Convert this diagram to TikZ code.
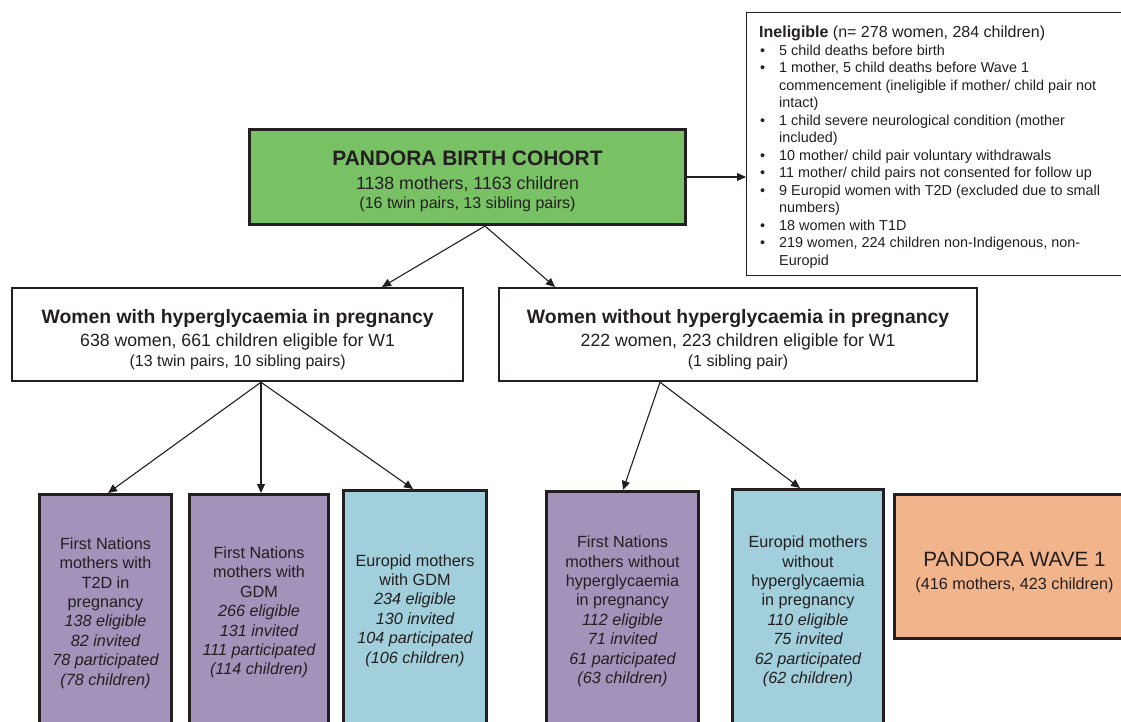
\documentclass[tikz,border=0pt]{standalone}
\usepackage{fontspec}
\setmainfont{Liberation Sans}
\usetikzlibrary{arrows.meta,calc}
\definecolor{bordc}{HTML}{231F20}
\definecolor{greenc}{HTML}{78C164}
\definecolor{purplec}{HTML}{A393BA}
\definecolor{cyanc}{HTML}{A1CFDC}
\definecolor{orangec}{HTML}{F2B48A}
\definecolor{textc}{HTML}{231F20}
\newcommand{\bul}{\makebox[20pt][l]{\hspace{1pt}•}}
\newcommand{\ind}{\hspace{20pt}}
\tikzset{
  box/.style={draw=bordc, line width=3pt, anchor=north west, inner sep=0pt, align=center, text=textc},
  midbox/.style={draw=bordc, line width=2.2pt, anchor=north west, inner sep=0pt, align=center, text=textc},
  colbox/.style={box, font=\fontsize{16.2}{19.4}\selectfont},
  conn/.style={draw=bordc, line width=1.1pt, -{Triangle[length=9pt,width=8pt]}},
}
\begin{document}
\begin{tikzpicture}[x=1pt,y=-1pt]
\useasboundingbox (0,0) rectangle (1121,722);
\clip (0,0) rectangle (1121,722);
% top green
\node[box, fill=greenc, minimum width=436pt, minimum height=95pt, font=\fontsize{16}{19}\selectfont] (birth) at (248,128)
  {\rule{0pt}{23pt}{\fontsize{20.9}{24}\selectfont\bfseries PANDORA BIRTH COHORT}\\[5pt]
   {\fontsize{17.8}{21}\selectfont 1138 mothers, 1163 children}\\
   (16 twin pairs, 13 sibling pairs)};
% ineligible
\node[draw=bordc, line width=1pt, anchor=north west, minimum width=375pt, minimum height=263pt, inner sep=0pt] (inel) at (746,12) {};
\node[anchor=north west, align=left, inner sep=0pt, text=textc, font=\fontsize{14.4}{17.5}\selectfont] (ineltext) at (759,26)
  {{\fontsize{16}{17.5}\selectfont\textbf{Ineligible} (n= 278 women, 284 children)}\\
   \bul 5 child deaths before birth\\
   \bul 1 mother, 5 child deaths before Wave 1\\
   \ind commencement (ineligible if mother/ child pair not\\
   \ind intact)\\
   \bul 1 child severe neurological condition (mother\\
   \ind included)\\
   \bul 10 mother/ child pair voluntary withdrawals\\
   \bul 11 mother/ child pairs not consented for follow up\\
   \bul 9 Europid women with T2D (excluded due to small\\
   \ind numbers)\\
   \bul 18 women with T1D\\
   \bul 219 women, 224 children non-Indigenous, non-\\
   \ind Europid};
% middle boxes
\node[midbox, fill=white, minimum width=451pt, minimum height=93pt, font=\fontsize{16}{20}\selectfont] (lmid) at (11,287)
  {\rule{0pt}{24.5pt}{\fontsize{19.4}{22}\selectfont\bfseries Women with hyperglycaemia in pregnancy}\\[3pt]
   {\fontsize{17.7}{21}\selectfont 638 women, 661 children eligible for W1}\\
   (13 twin pairs, 10 sibling pairs)};
\node[midbox, fill=white, minimum width=478pt, minimum height=93pt, font=\fontsize{16}{20}\selectfont] (rmid) at (498,287)
  {\rule{0pt}{24.5pt}{\fontsize{19.4}{22}\selectfont\bfseries Women without hyperglycaemia in pregnancy}\\[3pt]
   {\fontsize{17.7}{21}\selectfont 222 women, 223 children eligible for W1}\\
   (1 sibling pair)};
% bottom boxes
\node[colbox, fill=purplec, minimum width=132pt, minimum height=237pt] (b1) at (38,493)
  {First Nations\\mothers with\\T2D in\\pregnancy\\\itshape 138 eligible\\\itshape 82 invited\\\itshape 78 participated\\\itshape (78 children)};
\node[colbox, fill=purplec, minimum width=139pt, minimum height=236pt] (b2) at (188,493)
  {First Nations\\mothers with\\GDM\\\itshape 266 eligible\\\itshape 131 invited\\\itshape 111 participated\\\itshape (114 children)};
\node[colbox, fill=cyanc, minimum width=143pt, minimum height=240pt] (b3) at (342,489)
  {Europid mothers\\with GDM\\\itshape 234 eligible\\\itshape 130 invited\\\itshape 104 participated\\\itshape (106 children)};
\node[colbox, fill=purplec, minimum width=152pt, minimum height=240pt] (b4) at (545,490)
  {First Nations\\mothers without\\hyperglycaemia\\in pregnancy\\\itshape 112 eligible\\\itshape 71 invited\\\itshape 61 participated\\\itshape (63 children)};
\node[colbox, fill=cyanc, minimum width=151pt, minimum height=244pt] (b5) at (731,488)
  {Europid mothers\\without\\hyperglycaemia\\in pregnancy\\\itshape 110 eligible\\\itshape 75 invited\\\itshape 62 participated\\\itshape (62 children)};
\node[box, fill=orangec, minimum width=240pt, minimum height=144pt, font=\fontsize{16.2}{23}\selectfont] (wave) at (893,493)
  {\rule{0pt}{26pt}{\fontsize{20.7}{24}\selectfont PANDORA WAVE 1}\\
   (416 mothers, 423 children)};
% connectors
\draw[conn] (birth.east) -- (birth.east -| inel.west);
\coordinate (bs) at ($(birth.south west)+(237,0)$);
\draw[conn] (bs) -- ($(lmid.north west)+(371,0)$);
\draw[conn] (bs) -- ($(rmid.north west)+(57,0)$);
\coordinate (ls) at ($(lmid.south west)+(250,0)$);
\draw[conn] (ls) -- ($(b1.north west)+(70,0)$);
\draw[conn] (ls) -- ($(b2.north west)+(73,0)$);
\draw[conn] (ls) -- ($(b3.north west)+(71,0)$);
\coordinate (rs) at ($(rmid.south west)+(162,0)$);
\draw[conn] (rs) -- ($(b4.north west)+(78,0)$);
\draw[conn] (rs) -- ($(b5.north west)+(69,0)$);
\end{tikzpicture}
\end{document}
